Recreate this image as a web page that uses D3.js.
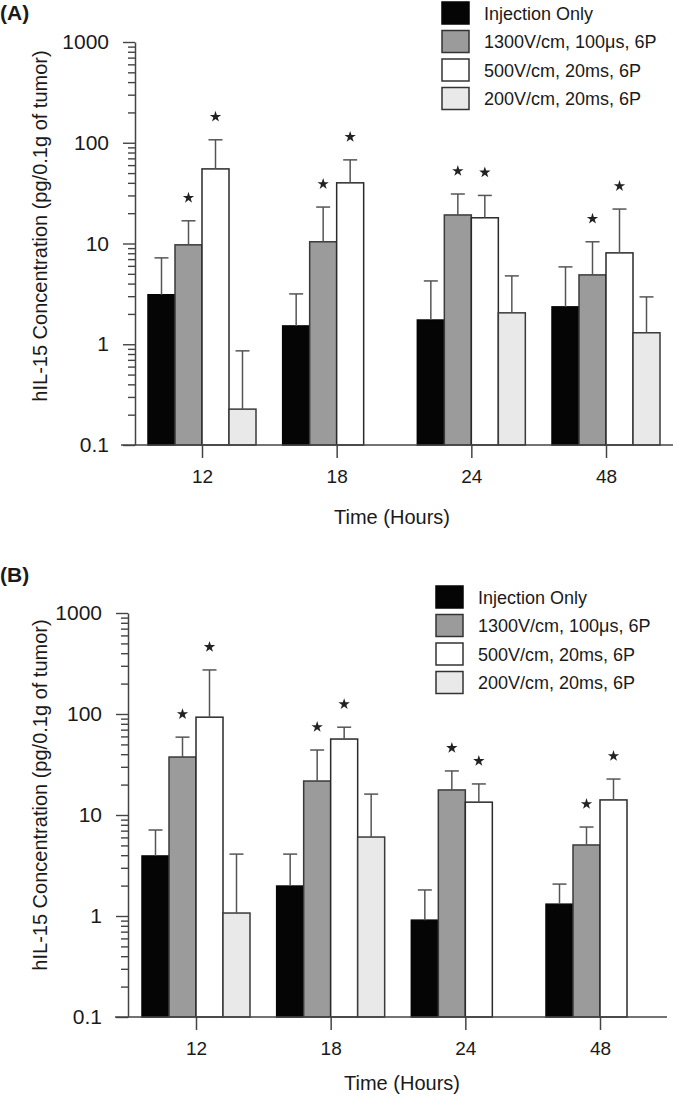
<!DOCTYPE html>
<html><head><meta charset="utf-8">
<script src="https://cdn.jsdelivr.net/npm/d3@7"></script>
<style>
body{margin:0;background:#fff;}
svg text{font-family:"Liberation Sans",Arial,Helvetica,sans-serif;fill:#1a1a1a;}
</style></head>
<body><svg id="c" width="675" height="1097"></svg>
<script>
const categories = ["12","18","24","48"];
const seriesNames = ["Injection Only","1300V/cm, 100\u03bcs, 6P","500V/cm, 20ms, 6P","200V/cm, 20ms, 6P"];
const yTickLabels = ["0.1","1","10","100","1000"];
// Panel A means and upper error (SD) values
const aInjection = [3.1, 1.52, 1.74, 2.35];
const aInjectionErr = [4.1, 1.64, 2.51, 3.51];
const a1300 = [9.7, 10.4, 19.2, 4.88];
const a1300Err = [7.1, 12.6, 11.8, 5.52];
const a500 = [55, 40, 18, 8.07];
const a500Err = [52, 27.6, 12, 13.9];
const a200 = [0.227, null, 2.05, 1.3];
const a200Err = [0.633, null, 2.72, 1.65];
const aStars = [[0,1,1,0],[0,1,1,0],[0,1,1,0],[0,1,1,0]];
// Panel B
const bInjection = [3.93, 1.98, 0.91, 1.31];
const bInjectionErr = [3.17, 2.12, 0.90, 0.76];
const b1300 = [37.5, 21.7, 17.7, 5.05];
const b1300Err = [21.5, 22.3, 9.6, 2.55];
const b500 = [93, 56.5, 13.4, 14.1];
const b500Err = [180, 17.5, 6.9, 8.6];
const b200 = [1.07, 6.05, null, null];
const b200Err = [3.03, 10.05, null, null];
const bStars = [[0,1,1,0],[0,1,1,0],[0,1,1,0],[0,1,1,0]];

const fills = ["#050505","#9b9b9b","#ffffff","#e9e9e9"];
const strokes = ["#050505","#3a3a3a","#2a2a2a","#3a3a3a"];
const svg = d3.select("#c");

function panel(cfg){
  const g = svg.append("g");
  const y = d3.scaleLog().domain([0.1,1000]).range([cfg.y0, cfg.y1]);
  const x = d3.scalePoint().domain(categories).range([cfg.xa, cfg.xb]);
  const sub = d3.scaleBand().domain(d3.range(4)).range([-54,54]);
  const means = cfg.means, errs = cfg.errs;
  categories.forEach((c,ci)=>{
    for(let s=0;s<4;s++){
      const v = means[s][ci];
      if(v==null) continue;
      const bx = x(c)+sub(s);
      g.append("rect").attr("x",bx).attr("y",y(v)).attr("width",sub.bandwidth())
        .attr("height",y(0.1)-y(v)).attr("fill",fills[s]).attr("stroke",strokes[s]).attr("stroke-width",1.5);
      const top = v+errs[s][ci];
      const cx = bx+sub.bandwidth()/2;
      g.append("line").attr("x1",cx).attr("x2",cx).attr("y1",y(v)).attr("y2",y(top)).attr("stroke","#555").attr("stroke-width",1.5);
      g.append("line").attr("x1",cx-7).attr("x2",cx+7).attr("y1",y(top)).attr("y2",y(top)).attr("stroke","#555").attr("stroke-width",1.5);
      if(cfg.stars[ci][s]){
        g.append("path").attr("d",d3.symbol().type(d3.symbolStar).size(40)())
          .attr("transform",`translate(${cx},${y(top)-23})`).attr("fill","#222");
      }
    }
  });
  const majors = yTickLabels.map(Number);
  const minors = [];
  [0.1,1,10,100].forEach(d=>{for(let k=2;k<10;k++) minors.push(d*k);});
  const yAx = g.append("g").attr("transform",`translate(${cfg.ax},0)`)
    .call(d3.axisLeft(y).tickValues(majors).tickSize(12).tickSizeOuter(0).tickFormat((d,i)=>yTickLabels[i]).tickPadding(14));
  yAx.selectAll("text").style("font-size","21px");
  const yMin = g.append("g").attr("transform",`translate(${cfg.ax},0)`)
    .call(d3.axisLeft(y).tickValues(minors).tickSize(7).tickFormat(""));
  yMin.select(".domain").remove();
  [yAx,yMin].forEach(a=>{a.selectAll("line").attr("stroke","#444").attr("stroke-width",1.4);a.select(".domain").attr("stroke","#444").attr("stroke-width",1.5);});
  const xAx = g.append("g").attr("transform",`translate(0,${cfg.y0})`)
    .call(d3.axisBottom(x).tickSize(13).tickSizeOuter(0).tickPadding(12));
  xAx.select(".domain").attr("d",`M${cfg.xl},0H${cfg.xr}`).attr("stroke","#444").attr("stroke-width",1.5);
  xAx.selectAll("line").attr("stroke","#444").attr("stroke-width",1.5);
  xAx.selectAll("text").style("font-size","19px");
  g.append("text").attr("transform",`translate(${cfg.ytx},${cfg.yty}) rotate(-90)`).attr("text-anchor","middle")
    .style("font-size","20px").text("hIL-15 Concentration (pg/0.1g of tumor)");
  g.append("text").attr("x",cfg.xtx).attr("y",cfg.xty).attr("text-anchor","middle").style("font-size","20px").text("Time (Hours)");
  g.append("text").attr("x",0).attr("y",cfg.py).style("font-size","21px").style("font-weight","bold").text(cfg.label);
  const lg = g.append("g").attr("transform",`translate(${cfg.lx},${cfg.ly})`);
  seriesNames.forEach((n,i)=>{
    lg.append("rect").attr("x",0).attr("y",i*28.5).attr("width",27).attr("height",22)
      .attr("fill",fills[i]).attr("stroke",i==0?fills[0]:"#333").attr("stroke-width",1.5);
    lg.append("text").attr("x",42).attr("y",i*28.5+17.5).style("font-size","18px").text(n);
  });
}

panel({label:"(A)",py:20,y0:445,y1:42,xa:202,xb:606,ax:135,xl:121,xr:673,
  means:[aInjection,a1300,a500,a200],errs:[aInjectionErr,a1300Err,a500Err,a200Err],stars:aStars,
  ytx:47,yty:226,xtx:392,xty:524,lx:442,ly:2});
panel({label:"(B)",py:582,y0:1017,y1:613,xa:196,xb:600,ax:128,xl:115,xr:667,
  means:[bInjection,b1300,b500,b200],errs:[bInjectionErr,b1300Err,b500Err,b200Err],stars:bStars,
  ytx:47,yty:795,xtx:402,xty:1090,lx:436,ly:586});
</script></body></html>
